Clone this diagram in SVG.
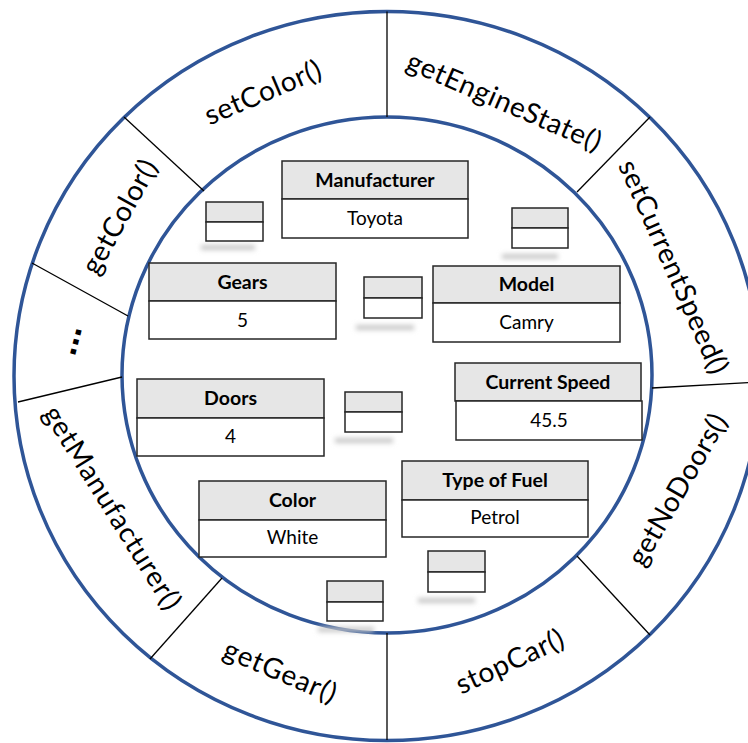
<svg xmlns="http://www.w3.org/2000/svg" width="748" height="743" viewBox="0 0 748 743">
<defs>
<filter id="blur" x="-30%" y="-200%" width="160%" height="500%"><feGaussianBlur stdDeviation="2.5"/></filter>
</defs>
<style>
.ring{fill:none;stroke:#2f5597;stroke-width:3.5}
.div{stroke:#000;stroke-width:1.3}
.lbl{font-family:Lato,"Liberation Sans",sans-serif;font-size:28px;fill:#000;text-anchor:middle}
.hd{fill:#e6e6e6;stroke:#262626;stroke-width:1.5}
.vl{fill:#fff;stroke:#262626;stroke-width:1.5}
.ht{font-family:Lato,"Liberation Sans",sans-serif;font-size:19.5px;font-weight:bold;fill:#000;text-anchor:middle}
.vt{font-family:Lato,"Liberation Sans",sans-serif;font-size:19px;fill:#000;text-anchor:middle}
.sh{fill:#c8c8c8;filter:url(#blur)}
</style>
<rect width="748" height="743" fill="#fff"/>
<g id="rings">
<ellipse class="ring" cx="387" cy="376" rx="373" ry="364.5"/>
<ellipse class="ring" cx="387" cy="375" rx="265" ry="258"/>
</g>
<g id="connectors">
<line class="div" x1="387" y1="117" x2="387" y2="11.5"/>
<line class="div" x1="577" y1="192" x2="650" y2="117"/>
<line class="div" x1="652" y1="388" x2="760" y2="382"/>
<line class="div" x1="577" y1="556" x2="650" y2="635"/>
<line class="div" x1="387" y1="633" x2="387" y2="740"/>
<line class="div" x1="222" y1="578" x2="150" y2="659"/>
<line class="div" x1="122" y1="377" x2="18" y2="402"/>
<line class="div" x1="204" y1="191" x2="124" y2="117"/>
<line class="div" x1="128" y1="316" x2="32" y2="263"/>
</g>
<g id="methods">
<g id="m-setColor"><text class="lbl" transform="translate(263,93) rotate(-23)" x="0" y="9" textLength="124">setColor()</text></g>
<g id="m-getEngineState"><text class="lbl" transform="translate(504,102) rotate(23.5)" x="0" y="9" textLength="209">getEngineState()</text></g>
<g id="m-setCurrentSpeed"><text class="lbl" transform="translate(673,267) rotate(66)" x="0" y="9" textLength="231">setCurrentSpeed()</text></g>
<g id="m-getNoDoors"><text class="lbl" transform="translate(678,490) rotate(-60)" x="0" y="9" textLength="170">getNoDoors()</text></g>
<g id="m-stopCar"><text class="lbl" transform="translate(510,662) rotate(-25)" x="0" y="9" textLength="116">stopCar()</text></g>
<g id="m-getGear"><text class="lbl" transform="translate(280,672) rotate(23)" x="0" y="9" textLength="120">getGear()</text></g>
<g id="m-getManufacturer"><text class="lbl" transform="translate(112,508) rotate(58)" x="0" y="9" textLength="234">getManufacturer()</text></g>
<g id="m-getColor"><text class="lbl" transform="translate(120,217) rotate(-61)" x="0" y="9" textLength="126">getColor()</text></g>
<g id="m-more"><text transform="translate(76.5,342) rotate(-76)" x="0" y="2" font-family="Liberation Sans,sans-serif" font-size="36" font-weight="bold" text-anchor="middle">...</text></g>
</g>
<g id="n-manufacturer">
<rect class="hd" x="282" y="161" width="186" height="38"/><rect class="vl" x="282" y="199" width="186" height="39"/>
<text class="ht" x="375" y="187">Manufacturer</text><text class="vt" x="375" y="225">Toyota</text>
</g>
<g id="n-gears">
<rect class="hd" x="149" y="263" width="187" height="38"/><rect class="vl" x="149" y="301" width="187" height="38"/>
<text class="ht" x="242.5" y="289">Gears</text><text class="vt" x="242.5" y="327">5</text>
</g>
<g id="n-model">
<rect class="hd" x="433" y="266" width="187" height="37"/><rect class="vl" x="433" y="303" width="187" height="39"/>
<text class="ht" x="526.5" y="291">Model</text><text class="vt" x="526.5" y="329">Camry</text>
</g>
<g id="n-speed">
<rect class="hd" x="455" y="363" width="186" height="38"/><rect class="vl" x="456" y="401" width="186" height="39"/>
<text class="ht" x="548" y="389">Current Speed</text><text class="vt" x="549" y="427">45.5</text>
</g>
<g id="n-doors">
<rect class="hd" x="137" y="379" width="187" height="39"/><rect class="vl" x="137" y="418" width="187" height="38"/>
<text class="ht" x="230.5" y="405">Doors</text><text class="vt" x="230.5" y="443">4</text>
</g>
<g id="n-color">
<rect class="hd" x="199" y="481" width="187" height="39"/><rect class="vl" x="199" y="520" width="187" height="37"/>
<text class="ht" x="292.5" y="507">Color</text><text class="vt" x="292.5" y="544">White</text>
</g>
<g id="n-fuel">
<rect class="hd" x="402" y="461" width="186" height="39"/><rect class="vl" x="402" y="500" width="186" height="37"/>
<text class="ht" x="495" y="487">Type of Fuel</text><text class="vt" x="495" y="524">Petrol</text>
</g>
<g id="s1"><rect class="sh" x="201" y="245" width="54" height="5"/><rect class="hd" x="206" y="202" width="57" height="20"/><rect class="vl" x="206" y="222" width="57" height="19"/></g>
<g id="s2"><rect class="sh" x="502" y="254" width="56" height="5"/><rect class="hd" x="512" y="208" width="56" height="20"/><rect class="vl" x="512" y="228" width="56" height="20"/></g>
<g id="s3"><rect class="sh" x="356" y="325" width="58" height="5"/><rect class="hd" x="364" y="277" width="58" height="21"/><rect class="vl" x="364" y="298" width="58" height="20"/></g>
<g id="s4"><rect class="sh" x="335" y="438" width="58" height="5"/><rect class="hd" x="345" y="392" width="57" height="20"/><rect class="vl" x="345" y="412" width="57" height="20"/></g>
<g id="s5"><rect class="sh" x="418" y="598" width="57" height="5"/><rect class="hd" x="428" y="551" width="57" height="21"/><rect class="vl" x="428" y="572" width="57" height="20"/></g>
<g id="s6"><rect class="sh" x="318" y="627" width="56" height="5"/><rect class="hd" x="327" y="581" width="56" height="21"/><rect class="vl" x="327" y="602" width="56" height="19"/></g>
</svg>
